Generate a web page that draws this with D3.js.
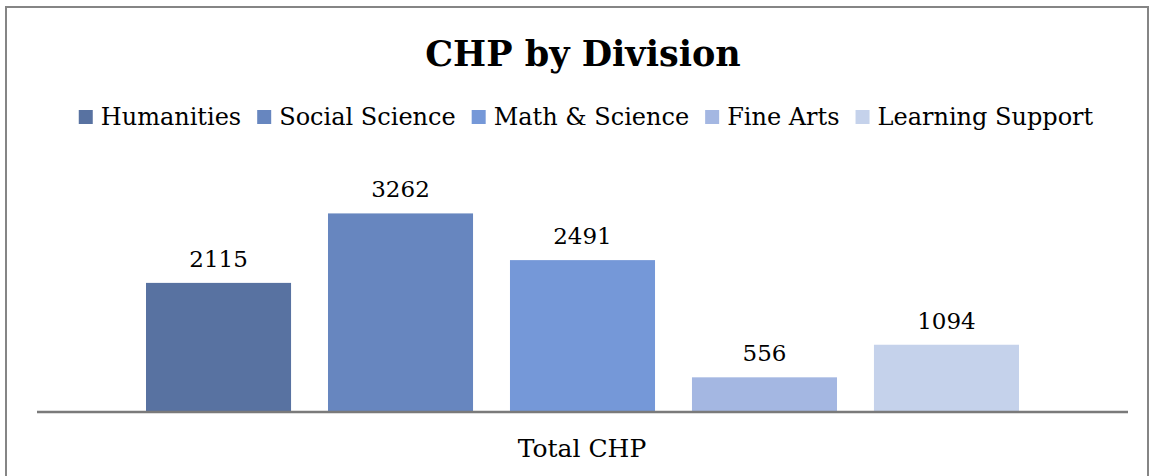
<!DOCTYPE html>
<html>
<head>
<meta charset="utf-8">
<script src="https://cdn.jsdelivr.net/npm/d3@7"></script>
<style>
  body { margin: 0; background: #fff; }
  text { font-family: "DejaVu Serif", serif; fill: #000; }
</style>
</head>
<body>
<svg></svg>
<script>
let divisions = ["Humanities", "Social Science", "Math & Science", "Fine Arts", "Learning Support"],
    chp       = [2115, 3262, 2491, 556, 1094],
    colors    = ["#5872a1", "#6786bf", "#7598d8", "#a4b7e2", "#c5d2eb"],
    category  = "Total CHP",
    title     = "CHP by Division";

let width = 1153, height = 476,
    svg = d3.select("svg").attr("width", width).attr("height", height);

// chart frame
svg.append("rect")
    .attr("x", 6).attr("y", 7)
    .attr("width", 1142).attr("height", 480)
    .attr("fill", "#fff")
    .attr("stroke", "#858585")
    .attr("stroke-width", 2);

let xScale = d3.scaleBand().domain(divisions).range([37, 1128]).paddingInner(0.203).paddingOuter(0.599),
    yScale = d3.scaleLinear().domain([0, 3500]).range([411, 199]),
    colorScale = d3.scaleOrdinal().domain(divisions).range(colors);

let data = divisions.map((d, i) => ({ name: d, value: chp[i] }));

svg.selectAll("rect.bar")
  .data(data)
  .enter()
  .append("rect")
    .classed("bar", true)
    .attr("x", d => xScale(d.name))
    .attr("y", d => yScale(d.value))
    .attr("width", xScale.bandwidth())
    .attr("height", d => yScale(0) - yScale(d.value))
    .attr("fill", d => colorScale(d.name));

svg.selectAll("text.val")
  .data(data)
  .enter()
  .append("text")
    .classed("val", true)
    .attr("x", d => xScale(d.name) + xScale.bandwidth() / 2)
    .attr("y", d => yScale(d.value) - 16)
    .attr("text-anchor", "middle")
    .attr("font-size", "23px")
    .text(d => d.value);

// axis line
svg.append("line")
    .attr("x1", 37).attr("x2", 1128)
    .attr("y1", yScale(0) + 1).attr("y2", yScale(0) + 1)
    .attr("stroke", "#7a7a7a")
    .attr("stroke-width", 2.5);

svg.append("text")
    .attr("x", 582).attr("y", 457)
    .attr("text-anchor", "middle")
    .attr("font-size", "25px")
    .text(category);

svg.append("text")
    .attr("x", 583).attr("y", 66)
    .attr("text-anchor", "middle")
    .attr("font-size", "35px")
    .attr("font-weight", "bold")
    .text(title);

// legend
let legend = svg.append("g"),
    items = legend.selectAll("g")
      .data(divisions)
      .enter()
      .append("g");

items.append("rect")
    .attr("y", -15)
    .attr("width", 14).attr("height", 14)
    .attr("fill", d => colorScale(d));

items.append("text")
    .attr("x", 22)
    .attr("font-size", "24px")
    .text(d => d);

let offset = 0;
items.each(function() {
  let w = d3.select(this).select("text").node().getComputedTextLength() + 22;
  d3.select(this).attr("transform", `translate(${offset},125)`);
  offset += w + 16;
});
offset -= 16;
legend.attr("transform", `translate(${586 - offset / 2},0)`);
</script>
</body>
</html>
